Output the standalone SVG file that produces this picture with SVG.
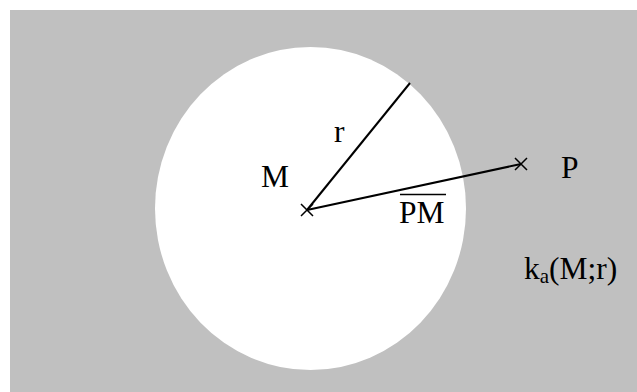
<svg xmlns="http://www.w3.org/2000/svg" width="637" height="392" viewBox="0 0 637 392">
<style>
.t{font-family:"Liberation Serif","Times New Roman",serif;font-size:31.5px;fill:#000}
.ln{stroke:#000;stroke-width:2;fill:none}
.x{stroke:#000;stroke-width:1.5;fill:none}
</style>
<rect x="10" y="10" width="627" height="382" fill="#c0c0c0"/>
<ellipse id="circle" cx="310.5" cy="208.5" rx="155.5" ry="161.5" fill="#fff"/>
<g id="connectors">
<line class="ln" x1="307" y1="210" x2="410" y2="83"/>
<line class="ln" x1="307" y1="210" x2="521" y2="164"/>
</g>
<g id="M">
<path class="x" d="M301 204L313 216M313 204L301 216"/>
<text class="t" x="261" y="187">M</text>
</g>
<g id="P">
<path class="x" d="M515 158L527 170M527 158L515 170"/>
<text class="t" x="561" y="178">P</text>
</g>
<g id="r-label"><text class="t" x="334" y="142">r</text></g>
<g id="PM-label">
<line x1="400" y1="194.5" x2="446" y2="194.5" stroke="#000" stroke-width="1.5"/>
<text class="t" x="399" y="223">PM</text>
</g>
<g id="k-label"><text class="t" x="524" y="279">k<tspan font-size="21" dy="4">a</tspan><tspan dy="-4">(M;r)</tspan></text></g>
</svg>
